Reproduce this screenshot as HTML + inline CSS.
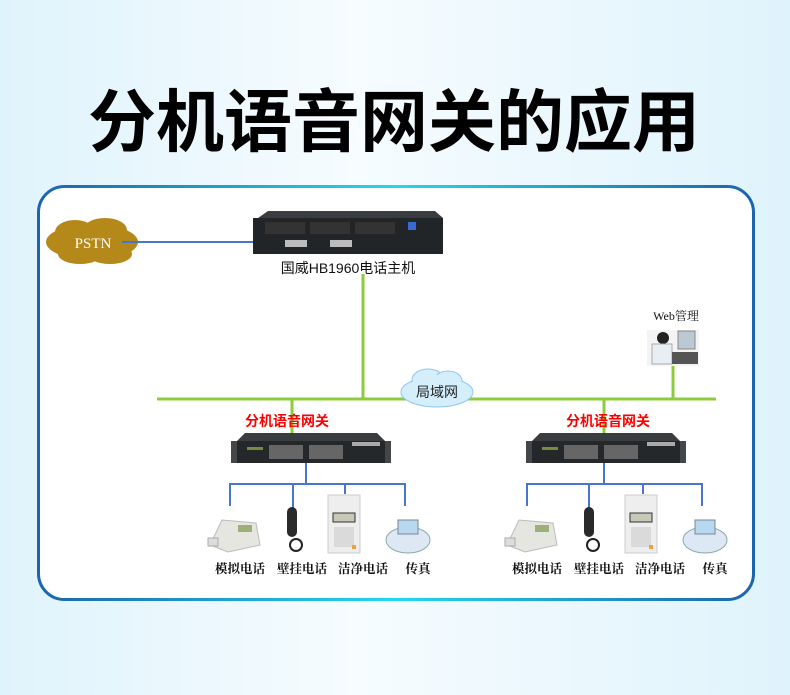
<!DOCTYPE html>
<html><head><meta charset="utf-8"><style>
html,body{margin:0;padding:0}
body{width:790px;height:690px;overflow:hidden;background:linear-gradient(90deg,#dff3fc 0%,#f6fcff 45%,#dff3fc 100%);font-family:"Liberation Sans","Noto Sans CJK SC",sans-serif}
</style></head><body>
<svg width="790" height="690" viewBox="0 0 790 690" xmlns="http://www.w3.org/2000/svg">
<defs>
<linearGradient id="bd" x1="0" x2="1" y1="0" y2="0">
<stop offset="0" stop-color="#1a64b0"/><stop offset="0.5" stop-color="#22d8f0"/><stop offset="1" stop-color="#1a64b0"/>
</linearGradient>
<g id="gw">
<polygon points="0,8 8,0 140,0 148,8" fill="#3a3d40"/>
<rect x="-4" y="8" width="156" height="22" fill="#25282a"/>
<rect x="-6" y="8" width="6" height="22" fill="#44474a"/>
<rect x="148" y="8" width="6" height="22" fill="#44474a"/>
<rect x="32" y="12" width="34" height="14" fill="#666"/>
<rect x="72" y="12" width="34" height="14" fill="#666"/>
<rect x="10" y="14" width="16" height="3" fill="#7a8a3a"/>
<rect x="115" y="9" width="28" height="4" fill="#aaa"/>
</g>
</defs>
<text x="394" y="146" font-size="68" font-weight="bold" text-anchor="middle" fill="#000" font-family="Noto Sans CJK SC,sans-serif">分机语音网关的应用</text>
<rect x="38.5" y="186.5" width="715" height="413" rx="26" fill="#fff" stroke="url(#bd)" stroke-width="3"/>
<g fill="#b5881a">
<ellipse cx="92" cy="242" rx="46" ry="18"/><ellipse cx="75" cy="232" rx="20" ry="12"/><ellipse cx="105" cy="230" rx="22" ry="12"/><ellipse cx="80" cy="254" rx="22" ry="10"/><ellipse cx="110" cy="254" rx="22" ry="10"/>
</g>
<text x="93" y="248" font-size="15" fill="#fff" text-anchor="middle" font-family="Liberation Serif,serif">PSTN</text>
<line x1="122" y1="242" x2="254" y2="242" stroke="#4a74d0" stroke-width="2"/>
<polygon points="258,218 268,211 435,211 443,218" fill="#3a3d40"/>
<rect x="253" y="218" width="190" height="36" fill="#222528"/>
<rect x="265" y="222" width="40" height="12" fill="#333"/><rect x="310" y="222" width="40" height="12" fill="#333"/><rect x="355" y="222" width="40" height="12" fill="#333"/>
<rect x="285" y="240" width="22" height="7" fill="#bbb"/><rect x="330" y="240" width="22" height="7" fill="#bbb"/>
<rect x="408" y="222" width="8" height="8" fill="#3a6ad0"/>
<text x="348" y="273" font-size="14" text-anchor="middle" fill="#111">国威HB1960电话主机</text>
<g stroke="#8ccc3c" stroke-width="3">
<line x1="363" y1="274" x2="363" y2="399"/>
<line x1="157" y1="399" x2="716" y2="399"/>
<line x1="292" y1="399" x2="292" y2="434"/>
<line x1="604" y1="399" x2="604" y2="434"/>
<line x1="673" y1="364" x2="673" y2="399"/>
</g>
<g fill="#d4eefc" stroke="#8cc8ee" stroke-width="1">
<ellipse cx="437" cy="392" rx="36" ry="15"/><ellipse cx="428" cy="380" rx="16" ry="11"/><ellipse cx="448" cy="381" rx="14" ry="10"/><ellipse cx="437" cy="392" rx="35" ry="14" stroke="none"/><ellipse cx="428" cy="382" rx="15" ry="9" stroke="none"/><ellipse cx="448" cy="383" rx="13" ry="8" stroke="none"/>
</g>
<text x="437" y="397" font-size="14" text-anchor="middle" fill="#222">局域网</text>
<text x="676" y="320" font-size="12" text-anchor="middle" fill="#111" font-family="Liberation Serif,Noto Serif CJK SC,serif">Web管理</text>
<rect x="647" y="330" width="52" height="36" fill="#f4f4f4"/>
<circle cx="663" cy="338" r="6" fill="#222"/>
<rect x="652" y="344" width="20" height="20" fill="#e8eef4" stroke="#aaa"/>
<rect x="678" y="331" width="17" height="18" fill="#bcc8d4" stroke="#888"/>
<rect x="672" y="352" width="26" height="12" fill="#555"/>
<text x="287" y="426" font-size="14" font-weight="bold" fill="#f00" text-anchor="middle">分机语音网关</text>
<text x="608" y="426" font-size="14" font-weight="bold" fill="#f00" text-anchor="middle">分机语音网关</text>
<use href="#gw" x="237" y="433"/>
<use href="#gw" x="532" y="433"/>
<g stroke="#4a74d0" stroke-width="2" fill="none">
<path d="M306 463V484M230 506V484H405V506M293 484V510M345 484V494"/>
<path d="M604 463V484M527 506V484H702V506M589 484V510M643 484V494"/>
</g>
<g id="devs">
<polygon points="210,545 222,520 256,523 260,545 228,552" fill="#e6e6e0" stroke="#bbb"/>
<rect x="238" y="525" width="14" height="7" fill="#9db07a"/>
<rect x="208" y="538" width="10" height="8" fill="#ddd" stroke="#aaa"/>
<rect x="287" y="507" width="10" height="30" rx="5" fill="#2a2a2a"/>
<circle cx="296" cy="545" r="6" fill="none" stroke="#222" stroke-width="2"/>
<rect x="328" y="495" width="32" height="58" fill="#eeeeee" stroke="#ccc"/>
<rect x="333" y="513" width="22" height="9" fill="#c8c8b8" stroke="#333"/>
<rect x="334" y="527" width="20" height="20" fill="#dadada"/>
<rect x="352" y="545" width="4" height="4" fill="#f0a040"/>
<ellipse cx="408" cy="540" rx="22" ry="13" fill="#dde8f4" stroke="#8aa"/>
<rect x="398" y="520" width="20" height="14" fill="#b8d8f0" stroke="#789"/>
</g>
<use href="#devs" x="297" y="0"/>
<g font-size="12.5" fill="#111" text-anchor="middle" font-family="Noto Serif CJK SC,serif" font-weight="bold">
<text x="240" y="573">模拟电话</text><text x="302" y="573">壁挂电话</text><text x="363" y="573">洁净电话</text><text x="418" y="573">传真</text>
<text x="537" y="573">模拟电话</text><text x="599" y="573">壁挂电话</text><text x="660" y="573">洁净电话</text><text x="715" y="573">传真</text>
</g>
</svg>
</body></html>
